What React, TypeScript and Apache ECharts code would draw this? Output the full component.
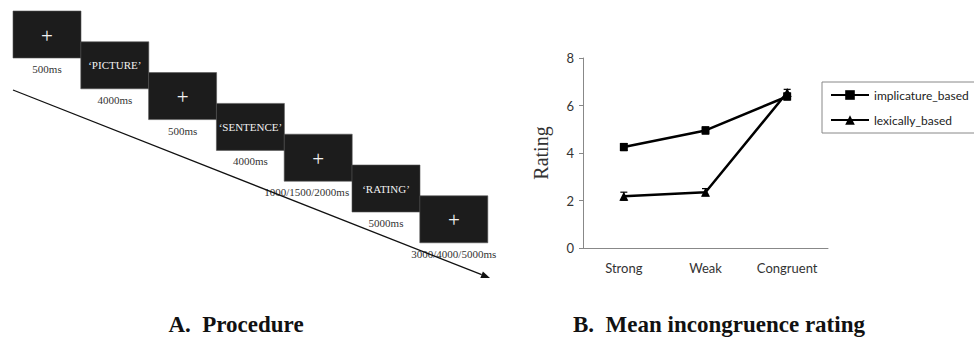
import React, { useEffect, useRef } from "react";
import * as echarts from "echarts";

const categories = ["Strong", "Weak", "Congruent"];
const implicatureBased = [4.25, 4.95, 6.38];
const implicatureErr = [0.15, 0.15, 0.15];
const lexicallyBased = [2.18, 2.35, 6.55];
const lexicallyErr = [0.17, 0.15, 0.13];
const seriesNames = ["implicature_based", "lexically_based"];

const stageTexts = ["+", "\u2018PICTURE\u2019", "+", "\u2018SENTENCE\u2019", "+", "\u2018RATING\u2019", "+"];
const stageDurations = ["500ms", "4000ms", "500ms", "4000ms", "1000/1500/2000ms", "5000ms", "3000/4000/5000ms"];
const panelTitles = ["A.  Procedure", "B.  Mean incongruence rating"];

const SERIF = "'Liberation Serif', 'Times New Roman', serif";
const SANS = "Lato, 'Open Sans', sans-serif";

function buildProcedure(): any[] {
  const els: any[] = [];
  const x0 = 13, y0 = 11, dx = 67.8, dy = 30.8, w = 68, h = 47;
  const last = stageTexts.length - 1;
  stageTexts.forEach((t, i) => {
    const x = x0 + dx * i;
    const y = y0 + dy * i;
    els.push({
      type: "rect",
      shape: { x, y, width: w, height: h },
      style: { fill: "#1c1c1c", stroke: "#555", lineWidth: 0.6 },
    });
    const plus = t === "+";
    els.push({
      type: "text",
      style: {
        text: t,
        x: x + w / 2,
        y: y + h / 2 + (plus ? 1 : 0),
        align: "center",
        verticalAlign: "middle",
        fill: "#f2f2f2",
        fontFamily: SERIF,
        fontSize: plus ? 21 : 11,
      },
    });
    const long = stageDurations[i].length > 10 && i < last;
    els.push({
      type: "text",
      style: {
        text: stageDurations[i],
        x: long ? x + w - 3 : x + w / 2,
        y: y + h + 11,
        align: long ? "right" : "center",
        verticalAlign: "middle",
        fill: "#333",
        fontFamily: SERIF,
        fontSize: 11,
      },
    });
  });
  // timeline arrow
  const ax1 = 13, ay1 = 90, ax2 = 490, ay2 = 278;
  const ang = Math.atan2(ay2 - ay1, ax2 - ax1);
  const L = 9, W = 3.5;
  const bx = ax2 - L * Math.cos(ang), by = ay2 - L * Math.sin(ang);
  els.push({
    type: "line",
    shape: { x1: ax1, y1: ay1, x2: bx, y2: by },
    style: { stroke: "#111", lineWidth: 1.3 },
  });
  els.push({
    type: "polygon",
    shape: {
      points: [
        [ax2, ay2],
        [bx + W * Math.sin(ang), by - W * Math.cos(ang)],
        [bx - W * Math.sin(ang), by + W * Math.cos(ang)],
      ],
    },
    style: { fill: "#111" },
  });
  // titles
  const titleX = [236, 719];
  panelTitles.forEach((t, i) => {
    els.push({
      type: "text",
      style: {
        text: t,
        x: titleX[i],
        y: 324,
        align: "center",
        verticalAlign: "middle",
        fill: "#111",
        fontFamily: SERIF,
        fontSize: 23,
        fontWeight: "bold",
      },
    });
  });
  return els;
}

function errorSeries(values: number[], errs: number[]) {
  return {
    type: "custom",
    z: 5,
    silent: true,
    data: values.map((v, i) => [i, v, errs[i]]),
    renderItem: (params: any, api: any) => {
      const x = api.value(0);
      const y = api.value(1);
      const e = api.value(2);
      const top = api.coord([x, y + e]);
      const bot = api.coord([x, y - e]);
      const c = 3.5;
      const st = { stroke: "#000", lineWidth: 1.2 };
      return {
        type: "group",
        children: [
          { type: "line", shape: { x1: top[0], y1: top[1], x2: bot[0], y2: bot[1] }, style: st },
          { type: "line", shape: { x1: top[0] - c, y1: top[1], x2: top[0] + c, y2: top[1] }, style: st },
          { type: "line", shape: { x1: bot[0] - c, y1: bot[1], x2: bot[0] + c, y2: bot[1] }, style: st },
        ],
      };
    },
  };
}

export default function App() {
  const ref = useRef<HTMLDivElement>(null);
  useEffect(() => {
    if (!ref.current) return;
    const chart = echarts.init(ref.current, null, { renderer: "svg" });
    chart.setOption({
      animation: false,
      backgroundColor: "#ffffff",
      grid: { left: 583, top: 58, right: 146, bottom: 96, containLabel: false },
      xAxis: {
        type: "category",
        data: categories,
        boundaryGap: true,
        axisLine: { lineStyle: { color: "#888", width: 1 } },
        axisTick: { show: false },
        axisLabel: { color: "#333", fontFamily: SANS, fontSize: 13, margin: 13 },
      },
      yAxis: {
        type: "value",
        min: 0,
        max: 8,
        interval: 2,
        name: "Rating",
        nameLocation: "middle",
        nameGap: 32,
        nameTextStyle: { color: "#333", fontFamily: SERIF, fontSize: 20 },
        axisLine: { show: true, lineStyle: { color: "#888", width: 1 } },
        axisTick: { show: true, length: 4, lineStyle: { color: "#888" } },
        splitLine: { show: false },
        axisLabel: { color: "#333", fontFamily: SANS, fontSize: 13, margin: 9 },
      },
      legend: {
        data: seriesNames,
        orient: "vertical",
        left: 822,
        top: 82,
        width: 144,
        itemWidth: 38,
        itemHeight: 12,
        itemGap: 13,
        padding: [7, 22, 7, 8],
        borderColor: "#888",
        borderWidth: 1,
        textStyle: { color: "#222", fontFamily: SANS, fontSize: 12 },
      },
      series: [
        {
          name: seriesNames[0],
          type: "line",
          data: implicatureBased,
          symbol: "rect",
          symbolSize: 8,
          lineStyle: { color: "#000", width: 2.5 },
          itemStyle: { color: "#000" },
          z: 3,
        },
        {
          name: seriesNames[1],
          type: "line",
          data: lexicallyBased,
          symbol: "triangle",
          symbolSize: 9,
          lineStyle: { color: "#000", width: 2.5 },
          itemStyle: { color: "#000" },
          z: 3,
        },
        errorSeries(implicatureBased, implicatureErr),
        errorSeries(lexicallyBased, lexicallyErr),
      ],
      graphic: { elements: buildProcedure() },
    });
    return () => chart.dispose();
  }, []);
  return (
    <div
      ref={ref}
      style={{ position: "absolute", left: 0, top: 0, width: 974, height: 344, background: "#fff" }}
    />
  );
}
